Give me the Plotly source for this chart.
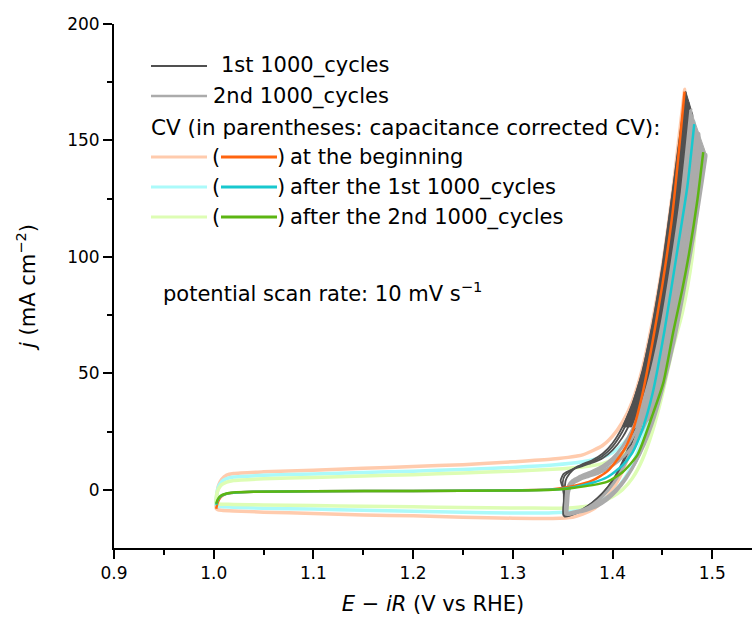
import plotly.graph_objects as go

# ---------------- data ----------------
# capacitance-corrected CVs
ORANGE_V = [1.0025, 1.004, 1.007, 1.012, 1.02, 1.04, 1.1, 1.2, 1.3, 1.34, 1.36, 1.38, 1.395, 1.41, 1.42, 1.43, 1.44, 1.45, 1.46, 1.4723]
ORANGE_J = [-8.2, -5.5, -3.2, -1.9, -1.3, -0.9, -0.6, -0.5, -0.3, 0.2, 1.5, 4, 8, 16, 25, 41, 63, 88, 118, 171]
CYAN_V = [1.0025, 1.004, 1.007, 1.012, 1.02, 1.04, 1.1, 1.2, 1.3, 1.34, 1.36, 1.38, 1.395, 1.41, 1.42, 1.43, 1.44, 1.452, 1.464, 1.475, 1.482]
CYAN_J = [-6.5, -4.5, -2.8, -1.8, -1.3, -0.9, -0.6, -0.5, -0.3, 0.1, 1, 3, 5.5, 10.5, 16, 26, 41, 68, 100, 130, 157]
GREEN_V = [1.0025, 1.004, 1.007, 1.012, 1.02, 1.04, 1.1, 1.2, 1.3, 1.34, 1.36, 1.38, 1.395, 1.41, 1.425, 1.44, 1.451, 1.461, 1.47, 1.477, 1.485, 1.491]
GREEN_J = [-6, -4.2, -2.6, -1.7, -1.2, -0.9, -0.6, -0.5, -0.3, 0, 0.8, 2, 3.5, 7.5, 15, 32, 46, 68, 86, 102, 124, 145]

# uncorrected CVs (forward + reverse branch)
PEACH_FWD_V = [1.0025, 1.003, 1.005, 1.008, 1.013, 1.02, 1.05, 1.1, 1.15, 1.2, 1.25, 1.3, 1.34, 1.37, 1.39, 1.40, 1.41, 1.42, 1.43, 1.44, 1.45, 1.46, 1.4725]
PEACH_FWD_J = [-8, -3, 2, 4.5, 6.3, 7, 7.7, 8.4, 9.2, 10, 10.8, 12, 13.2, 15, 19, 23, 29, 38, 52, 72, 96, 127, 172]
PEACH_REV_V = [1.4725, 1.468, 1.46, 1.45, 1.44, 1.43, 1.42, 1.41, 1.40, 1.39, 1.38, 1.37, 1.36, 1.34, 1.3, 1.25, 1.2, 1.15, 1.1, 1.05, 1.02, 1.008, 1.004, 1.0025]
PEACH_REV_J = [172, 150, 110, 80, 55, 34, 19, 8, 0, -5, -8.5, -10.5, -11.8, -12.3, -12.2, -11.8, -11.2, -10.8, -10.2, -9.6, -9.1, -8.8, -8.5, -8]

CYANL_FWD_V = [1.0025, 1.003, 1.005, 1.008, 1.013, 1.02, 1.05, 1.1, 1.15, 1.2, 1.25, 1.3, 1.34, 1.37, 1.39, 1.40, 1.41, 1.42, 1.43, 1.44, 1.45, 1.46, 1.47, 1.482]
CYANL_FWD_J = [-6.5, -2, 1.5, 3.5, 4.8, 5.5, 6.2, 6.8, 7.4, 8, 8.7, 9.6, 10.6, 12, 14, 16, 19.5, 25, 34, 48, 70, 97, 126, 158]
CYANL_REV_V = [1.482, 1.478, 1.47, 1.46, 1.45, 1.44, 1.43, 1.42, 1.41, 1.40, 1.39, 1.38, 1.37, 1.36, 1.34, 1.3, 1.25, 1.2, 1.15, 1.1, 1.05, 1.02, 1.008, 1.004, 1.0025]
CYANL_REV_J = [158, 140, 108, 80, 57, 37, 22, 11, 3.5, -1.5, -4.5, -6.8, -8.2, -9.2, -9.9, -10, -9.6, -9.2, -8.8, -8.3, -7.9, -7.5, -7.2, -6.9, -6.5]

GREENL_FWD_V = [1.0025, 1.003, 1.005, 1.008, 1.013, 1.02, 1.05, 1.1, 1.15, 1.2, 1.25, 1.3, 1.34, 1.37, 1.39, 1.41, 1.42, 1.43, 1.44, 1.45, 1.46, 1.47, 1.48, 1.491]
GREENL_FWD_J = [-6, -2, 0.5, 2.2, 3.3, 4, 4.7, 5.3, 5.9, 6.5, 7.2, 8, 8.8, 9.8, 11.2, 15, 19.5, 27, 39, 55, 75, 96, 120, 146]
GREENL_REV_V = [1.491, 1.487, 1.48, 1.47, 1.46, 1.45, 1.44, 1.43, 1.42, 1.41, 1.40, 1.39, 1.38, 1.37, 1.36, 1.34, 1.3, 1.25, 1.2, 1.15, 1.1, 1.05, 1.02, 1.008, 1.004, 1.0025]
GREENL_REV_J = [146, 130, 100, 76, 60, 41, 25, 13, 5, 0, -3, -5, -6.5, -7.3, -7.7, -7.9, -7.8, -7.6, -7.3, -7.1, -6.8, -6.5, -6.3, -6.2, -6.1, -6]

# 1st 1000 cycles (first, middle and last cycle shown)
DARK1_V = [1.351, 1.3512, 1.352, 1.353, 1.357, 1.363, 1.37, 1.38, 1.39, 1.40, 1.41, 1.42, 1.43, 1.44, 1.45, 1.46, 1.4735,
           1.47, 1.46, 1.45, 1.44, 1.43, 1.42, 1.41, 1.40, 1.39, 1.38, 1.37, 1.36, 1.355, 1.351]
DARK1_J = [-11, -5, 0, 4, 7, 9.5, 11, 12.8, 15.5, 20, 27, 37, 51, 71, 96, 127, 171,
           155, 114, 83, 58, 38, 23, 12, 4, -1.5, -5.5, -8.5, -10.5, -11.2, -11]
DARK2_V = [1.351, 1.3512, 1.351, 1.350, 1.352, 1.362, 1.37, 1.38, 1.39, 1.40, 1.41, 1.42, 1.43, 1.44, 1.45, 1.46, 1.47, 1.477,
           1.472, 1.465, 1.455, 1.445, 1.435, 1.425, 1.415, 1.405, 1.395, 1.385, 1.375, 1.365, 1.355, 1.351]
DARK2_J = [-11, -5, 0, 3, 6, 9.3, 10.6, 12.2, 14.5, 18.5, 25, 34, 47, 65, 88, 116, 146, 166,
           146, 118, 86, 62, 42, 27, 15.5, 7, 1, -3.5, -7, -9.5, -11, -11]
DARK3_V = [1.352, 1.3522, 1.350, 1.348, 1.351, 1.36, 1.37, 1.38, 1.39, 1.40, 1.41, 1.42, 1.43, 1.44, 1.45, 1.46, 1.47, 1.4805,
           1.476, 1.468, 1.458, 1.448, 1.438, 1.428, 1.418, 1.408, 1.398, 1.388, 1.378, 1.368, 1.358, 1.352]
DARK3_J = [-11.5, -5, 1, 4, 6.8, 8.8, 10.2, 11.6, 13.5, 17, 22.5, 31, 43, 59, 80, 106, 134, 161,
           143, 114, 84, 61, 42, 27, 16, 8, 2, -3, -6.5, -9.3, -11, -11.5]

# 2nd 1000 cycles (first, middle and last cycle shown)
LIGHT1_V = [1.353, 1.3532, 1.354, 1.356, 1.36, 1.366, 1.373, 1.38, 1.39, 1.40, 1.41, 1.42, 1.43, 1.44, 1.45, 1.46, 1.47, 1.4785,
            1.474, 1.466, 1.456, 1.446, 1.436, 1.426, 1.416, 1.406, 1.396, 1.386, 1.376, 1.366, 1.358, 1.353]
LIGHT1_J = [-10.5, -5, -1, 2, 4, 5.5, 6.8, 8, 10.2, 13.5, 18.5, 26, 37, 52, 72, 98, 128, 163,
            144, 113, 83, 60, 40, 25, 14, 6, 0, -4.5, -7.5, -9.5, -10.5, -10.5]
LIGHT2_V = [1.354, 1.3542, 1.355, 1.357, 1.361, 1.367, 1.375, 1.385, 1.395, 1.405, 1.415, 1.425, 1.435, 1.445, 1.455, 1.465, 1.475, 1.487,
            1.482, 1.474, 1.464, 1.454, 1.444, 1.434, 1.424, 1.414, 1.404, 1.394, 1.384, 1.374, 1.364, 1.358, 1.354]
LIGHT2_J = [-10, -5, -1, 1.8, 3.6, 5, 6.3, 8, 10.5, 14, 19, 26.5, 37, 52, 72, 97, 123, 153,
            133, 104, 77, 55, 37, 23, 12.5, 5, -0.5, -4.5, -7.2, -8.8, -9.8, -10.2, -10]
LIGHT3_V = [1.355, 1.3552, 1.356, 1.358, 1.362, 1.368, 1.376, 1.386, 1.396, 1.406, 1.416, 1.426, 1.436, 1.446, 1.456, 1.466, 1.476, 1.486, 1.494,
            1.49, 1.482, 1.472, 1.462, 1.452, 1.442, 1.432, 1.422, 1.412, 1.402, 1.392, 1.382, 1.372, 1.362, 1.355]
LIGHT3_J = [-9.8, -5, -1, 1.5, 3.2, 4.5, 5.7, 7.2, 9.3, 12.3, 16.5, 22.5, 31.5, 44, 61, 82, 106, 128, 144,
            132, 110, 86, 64, 46, 31, 19.5, 11, 4.5, -0.5, -4, -6.5, -8.3, -9.4, -9.8]

X_TICKS = [0.9, 1.0, 1.1, 1.2, 1.3, 1.4, 1.5]
X_MINOR = [0.95, 1.05, 1.15, 1.25, 1.35, 1.45]
Y_TICKS = [0, 50, 100, 150, 200]
Y_MINOR = [25, 75, 125, 175]

LEGEND_TEXT = ["1st 1000_cycles", "2nd 1000_cycles",
               "CV (in parentheses: capacitance corrected CV):",
               "at the beginning", "after the 1st 1000_cycles", "after the 2nd 1000_cycles"]
NOTE_TEXT = "potential scan rate: 10 mV s<sup>\u22121</sup>"
X_TITLE = "<i>E</i> \u2212 <i>iR</i> (V vs RHE)"
Y_TITLE = "<i>j</i> (mA cm<sup>\u22122</sup>)"

# ---------------- styles ----------------
C_PEACH, C_ORANGE = "#FFCBAD", "#FF640F"
C_CYANL, C_CYAN = "#ABFAFA", "#18C8CE"
C_GREENL, C_GREEN = "#DDFDB4", "#5CB512"
C_DARK, C_LIGHT = "#505050", "#ABABAB"
FONT = "DejaVu Sans"
WEDGE_MIN_J = 25

fig = go.Figure()


def add_line(x, y, color, width):
    fig.add_trace(go.Scatter(x=x, y=y, mode="lines", hoverinfo="skip",
                             line=dict(color=color, width=width, shape="spline", smoothing=0.6)))


def wedge(first_v, first_j, mid_v, mid_j, last_v, last_j, color):
    """Band covered by the many cycles near the top: first cycle's forward
    branch, the cycle vertices, the last cycle's reverse branch."""
    k1 = first_j.index(max(first_j))
    k2 = mid_j.index(max(mid_j))
    k3 = last_j.index(max(last_j))
    fv = [v for v, j in zip(first_v[:k1 + 1], first_j[:k1 + 1]) if j >= WEDGE_MIN_J]
    fj = [j for j in first_j[:k1 + 1] if j >= WEDGE_MIN_J]
    rv = [v for v, j in zip(last_v[k3:], last_j[k3:]) if j >= WEDGE_MIN_J]
    rj = [j for j in last_j[k3:] if j >= WEDGE_MIN_J]
    xs = fv + [mid_v[k2]] + rv
    ys = fj + [mid_j[k2]] + rj
    fig.add_trace(go.Scatter(x=xs + [xs[0]], y=ys + [ys[0]], mode="lines", hoverinfo="skip",
                             fill="toself", fillcolor=color,
                             line=dict(color=color, width=1)))


# uncorrected CV loops
for fv, fj, rv, rj, c in [(PEACH_FWD_V, PEACH_FWD_J, PEACH_REV_V, PEACH_REV_J, C_PEACH),
                          (CYANL_FWD_V, CYANL_FWD_J, CYANL_REV_V, CYANL_REV_J, C_CYANL),
                          (GREENL_FWD_V, GREENL_FWD_J, GREENL_REV_V, GREENL_REV_J, C_GREENL)]:
    add_line(fv + rv[1:], fj + rj[1:], c, 3.5)

# cycling: 1st 1000 (dark), then 2nd 1000 (light) on top
wedge(DARK1_V, DARK1_J, DARK2_V, DARK2_J, DARK3_V, DARK3_J, C_DARK)
for v, j in [(DARK1_V, DARK1_J), (DARK2_V, DARK2_J), (DARK3_V, DARK3_J)]:
    add_line(v, j, C_DARK, 1.8)
wedge(LIGHT1_V, LIGHT1_J, LIGHT2_V, LIGHT2_J, LIGHT3_V, LIGHT3_J, C_LIGHT)
for v, j in [(LIGHT1_V, LIGHT1_J), (LIGHT2_V, LIGHT2_J), (LIGHT3_V, LIGHT3_J)]:
    add_line(v, j, C_LIGHT, 3)

# corrected CVs
add_line(ORANGE_V, ORANGE_J, C_ORANGE, 2.5)
add_line(CYAN_V, CYAN_J, C_CYAN, 2.5)
add_line(GREEN_V, GREEN_J, C_GREEN, 2.5)

# ---------------- layout ----------------
L, T, B, W, H = 114, 24, 83, 752, 631
PW, PH = W - L, H - T - B


def px(x):
    return (x - L) / PW


def py(y):
    return (H - B - y) / PH


axis_common = dict(showline=True, linecolor="black", linewidth=2, ticks="outside", ticklen=9,
                   tickwidth=2, tickcolor="black", showgrid=False, zeroline=False,
                   tickfont=dict(family=FONT, size=17, color="black"))

fig.update_layout(
    width=W, height=H, margin=dict(l=L, r=0, t=T, b=B, autoexpand=False),
    plot_bgcolor="white", paper_bgcolor="white", showlegend=False,
    xaxis=dict(range=[0.9, 0.9 + 0.1 * PW / 99.7], tickvals=X_TICKS,
               ticktext=[f"{v:.1f}" for v in X_TICKS],
               minor=dict(tickvals=X_MINOR, ticks="outside", ticklen=5, tickwidth=2, tickcolor="black"),
               title=dict(text=X_TITLE, font=dict(family=FONT, size=21, color="black"), standoff=14),
               **axis_common),
    yaxis=dict(range=[-25, 200], tickvals=Y_TICKS,
               minor=dict(tickvals=Y_MINOR, ticks="outside", ticklen=5, tickwidth=2, tickcolor="black"),
               title=dict(text=Y_TITLE, font=dict(family=FONT, size=21, color="black"), standoff=26),
               **axis_common),
)


def text(x, y, s, size=21, **kw):
    fig.add_annotation(x=px(x), y=py(y), xref="paper", yref="paper", text=s, showarrow=False,
                       xanchor=kw.pop("xanchor", "left"), yanchor="middle",
                       font=dict(family=FONT, size=size, color="black"), **kw)


def seg(x0, x1, y, color, width):
    fig.add_shape(type="line", xref="paper", yref="paper", x0=px(x0), x1=px(x1), y0=py(y), y1=py(y),
                  line=dict(color=color, width=width))


# legend
seg(151, 207, 66, C_DARK, 2)
text(219, 66, LEGEND_TEXT[0])
seg(151, 207, 96, C_LIGHT, 2.5)
text(211, 96, LEGEND_TEXT[1])
text(149, 127, LEGEND_TEXT[2], size=21.5)
for k, (yy, cl, cs) in enumerate([(157, C_PEACH, C_ORANGE), (187, C_CYANL, C_CYAN), (217, C_GREENL, C_GREEN)]):
    seg(151, 207, yy, cl, 3)
    text(210, yy, "(")
    seg(221, 277, yy, cs, 3)
    text(275, yy, ")")
    text(288, yy, LEGEND_TEXT[3 + k])

text(161, 292, NOTE_TEXT)

fig.write_html("out.html")
